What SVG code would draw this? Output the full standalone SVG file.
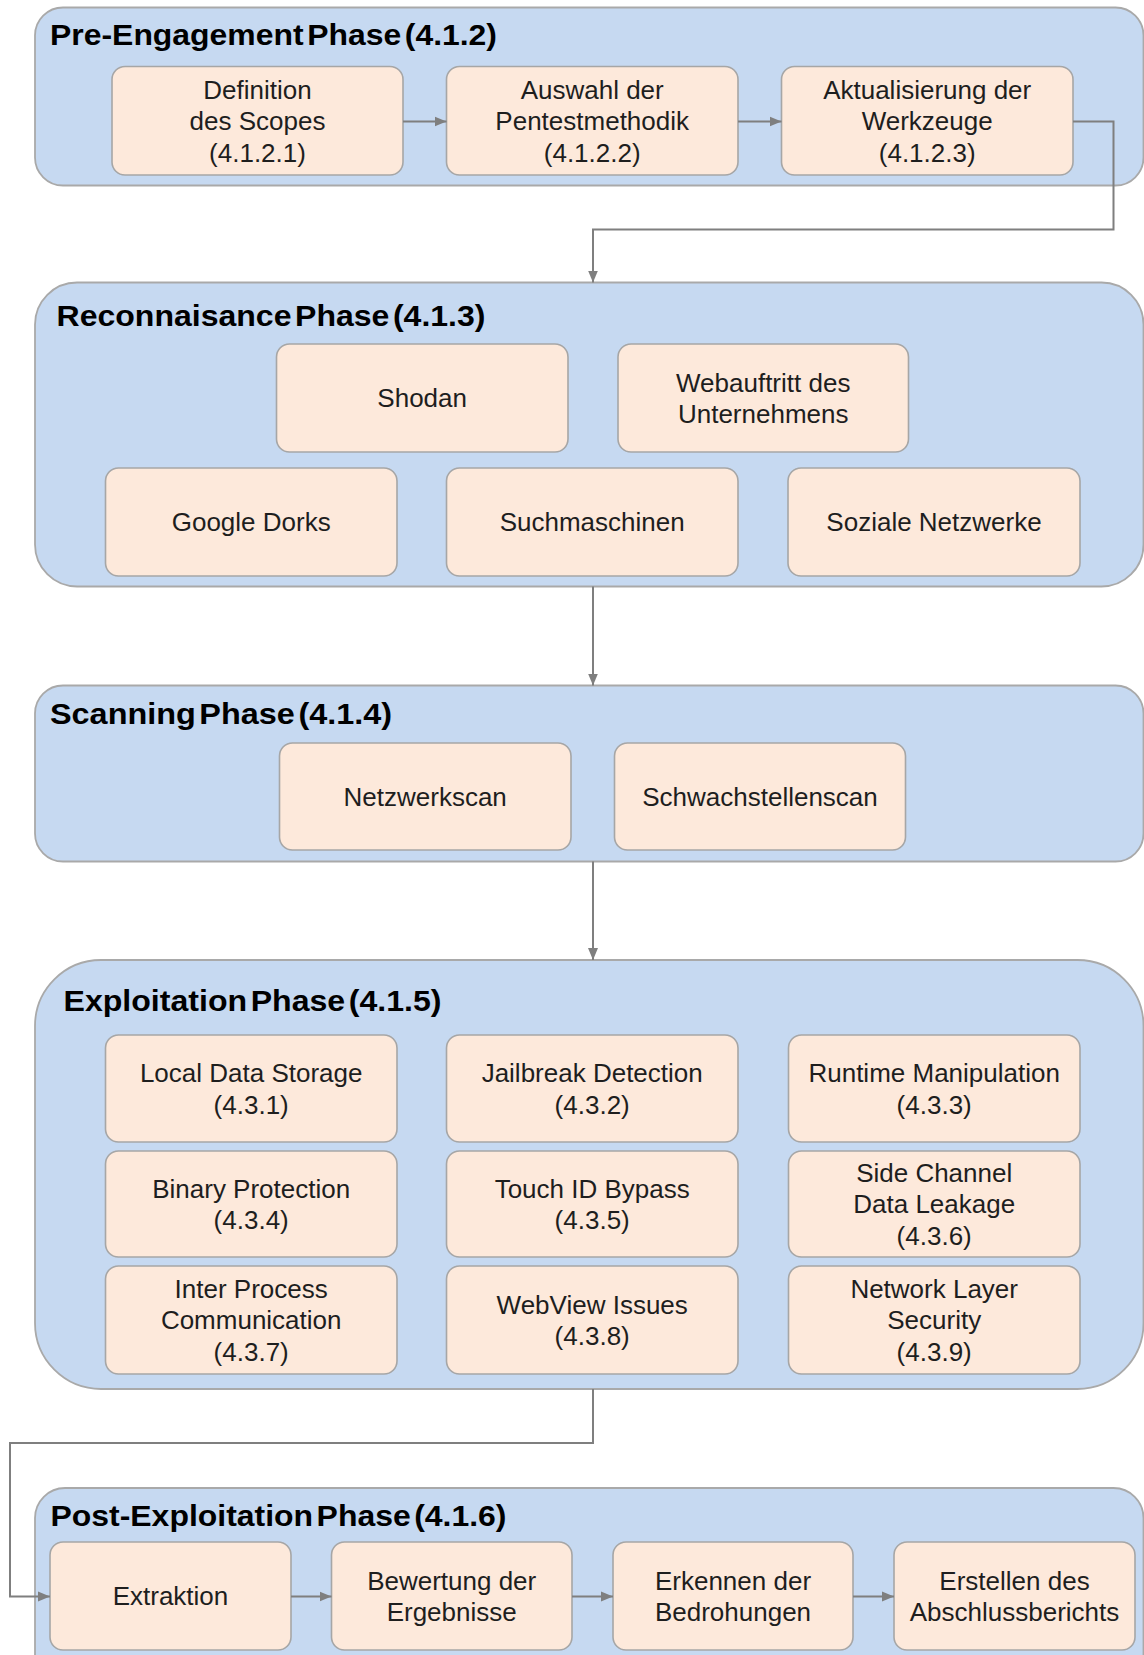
<svg xmlns="http://www.w3.org/2000/svg" width="1144" height="1655" viewBox="0 0 1144 1655">
<defs>
<style>
.phase{fill:#c6d9f1;stroke:#a9a9a9;stroke-width:1.8}
.node{fill:#fde9db;stroke:#a6a6a6;stroke-width:1.6}
.title{font-family:"Liberation Sans",Arial,sans-serif;font-weight:bold;font-size:30px;fill:#000;word-spacing:-5px}
.lbl{font-family:"Liberation Sans",Arial,sans-serif;font-size:26px;fill:#1e1e1e;text-anchor:middle}
.conn{fill:none;stroke:#7f7f7f;stroke-width:2}
</style>
<marker id="arr" markerUnits="userSpaceOnUse" markerWidth="14" markerHeight="12" refX="12" refY="6" orient="auto">
<path d="M0,1 L12,6 L0,11 Z" fill="#7f7f7f"/>
</marker>
</defs>
<rect width="1144" height="1655" fill="#ffffff"/>

<g id="phase-pre">
<rect class="phase" x="35" y="7.5" width="1108.5" height="178" rx="28" ry="28"/>
<text class="title" x="50" y="45" textLength="447" lengthAdjust="spacingAndGlyphs">Pre-Engagement Phase (4.1.2)</text>
</g>
<g id="phase-recon">
<rect class="phase" x="35" y="282.5" width="1108.5" height="304" rx="42" ry="42"/>
<text class="title" x="56.5" y="326" textLength="429" lengthAdjust="spacingAndGlyphs">Reconnaisance Phase (4.1.3)</text>
</g>
<g id="phase-scan">
<rect class="phase" x="35" y="685.5" width="1108.5" height="176" rx="28" ry="28"/>
<text class="title" x="50" y="724" textLength="342" lengthAdjust="spacingAndGlyphs">Scanning Phase (4.1.4)</text>
</g>
<g id="phase-exploit">
<rect class="phase" x="35" y="960" width="1108.5" height="429" rx="66" ry="66"/>
<text class="title" x="63.5" y="1010.5" textLength="378" lengthAdjust="spacingAndGlyphs">Exploitation Phase (4.1.5)</text>
</g>
<g id="phase-post">
<rect class="phase" x="35" y="1488" width="1108.5" height="200" rx="30" ry="30"/>
<text class="title" x="50.5" y="1526" textLength="456" lengthAdjust="spacingAndGlyphs">Post-Exploitation Phase (4.1.6)</text>
</g>

<g id="n-scope">
<rect class="node" x="112" y="66.5" width="291" height="108.5" rx="13"/>
<text class="lbl" x="257.5" y="98.6">Definition</text>
<text class="lbl" x="257.5" y="130.1">des Scopes</text>
<text class="lbl" x="257.5" y="161.6">(4.1.2.1)</text>
</g>
<g id="n-methodik">
<rect class="node" x="446.5" y="66.5" width="291.5" height="108.5" rx="13"/>
<text class="lbl" x="592.2" y="98.6">Auswahl der</text>
<text class="lbl" x="592.2" y="130.1">Pentestmethodik</text>
<text class="lbl" x="592.2" y="161.6">(4.1.2.2)</text>
</g>
<g id="n-werkzeuge">
<rect class="node" x="781.5" y="66.5" width="291.5" height="108.5" rx="13"/>
<text class="lbl" x="927.2" y="98.6">Aktualisierung der</text>
<text class="lbl" x="927.2" y="130.1">Werkzeuge</text>
<text class="lbl" x="927.2" y="161.6">(4.1.2.3)</text>
</g>

<g id="n-shodan">
<rect class="node" x="276.5" y="344" width="291.5" height="108" rx="13"/>
<text class="lbl" x="422.2" y="407.4">Shodan</text>
</g>
<g id="n-webauftritt">
<rect class="node" x="618" y="344" width="290.5" height="108" rx="13"/>
<text class="lbl" x="763.2" y="391.7">Webauftritt des</text>
<text class="lbl" x="763.2" y="423.2">Unternehmens</text>
</g>
<g id="n-google">
<rect class="node" x="105.5" y="468" width="291.5" height="108" rx="13"/>
<text class="lbl" x="251.2" y="531.4">Google Dorks</text>
</g>
<g id="n-such">
<rect class="node" x="446.5" y="468" width="291.5" height="108" rx="13"/>
<text class="lbl" x="592.2" y="531.4">Suchmaschinen</text>
</g>
<g id="n-sozial">
<rect class="node" x="788" y="468" width="292" height="108" rx="13"/>
<text class="lbl" x="934" y="531.4">Soziale Netzwerke</text>
</g>

<g id="n-netzwerkscan">
<rect class="node" x="279.5" y="743" width="291.5" height="107" rx="13"/>
<text class="lbl" x="425.2" y="805.9">Netzwerkscan</text>
</g>
<g id="n-schwachstellenscan">
<rect class="node" x="614.5" y="743" width="291" height="107" rx="13"/>
<text class="lbl" x="760" y="805.9">Schwachstellenscan</text>
</g>

<g id="n-431">
<rect class="node" x="105.5" y="1035" width="291.5" height="107" rx="13"/>
<text class="lbl" x="251.2" y="1082.2">Local Data Storage</text>
<text class="lbl" x="251.2" y="1113.7">(4.3.1)</text>
</g>
<g id="n-432">
<rect class="node" x="446.5" y="1035" width="291.5" height="107" rx="13"/>
<text class="lbl" x="592.2" y="1082.2">Jailbreak Detection</text>
<text class="lbl" x="592.2" y="1113.7">(4.3.2)</text>
</g>
<g id="n-433">
<rect class="node" x="788.5" y="1035" width="291.5" height="107" rx="13"/>
<text class="lbl" x="934.2" y="1082.2">Runtime Manipulation</text>
<text class="lbl" x="934.2" y="1113.7">(4.3.3)</text>
</g>
<g id="n-434">
<rect class="node" x="105.5" y="1151" width="291.5" height="106" rx="13"/>
<text class="lbl" x="251.2" y="1197.7">Binary Protection</text>
<text class="lbl" x="251.2" y="1229.2">(4.3.4)</text>
</g>
<g id="n-435">
<rect class="node" x="446.5" y="1151" width="291.5" height="106" rx="13"/>
<text class="lbl" x="592.2" y="1197.7">Touch ID Bypass</text>
<text class="lbl" x="592.2" y="1229.2">(4.3.5)</text>
</g>
<g id="n-436">
<rect class="node" x="788.5" y="1151" width="291.5" height="106" rx="13"/>
<text class="lbl" x="934.2" y="1181.9">Side Channel</text>
<text class="lbl" x="934.2" y="1213.4">Data Leakage</text>
<text class="lbl" x="934.2" y="1244.9">(4.3.6)</text>
</g>
<g id="n-437">
<rect class="node" x="105.5" y="1266" width="291.5" height="108" rx="13"/>
<text class="lbl" x="251.2" y="1297.9">Inter Process</text>
<text class="lbl" x="251.2" y="1329.4">Communication</text>
<text class="lbl" x="251.2" y="1360.9">(4.3.7)</text>
</g>
<g id="n-438">
<rect class="node" x="446.5" y="1266" width="291.5" height="108" rx="13"/>
<text class="lbl" x="592.2" y="1313.7">WebView Issues</text>
<text class="lbl" x="592.2" y="1345.2">(4.3.8)</text>
</g>
<g id="n-439">
<rect class="node" x="788.5" y="1266" width="291.5" height="108" rx="13"/>
<text class="lbl" x="934.2" y="1297.9">Network Layer</text>
<text class="lbl" x="934.2" y="1329.4">Security</text>
<text class="lbl" x="934.2" y="1360.9">(4.3.9)</text>
</g>

<g id="n-extraktion">
<rect class="node" x="50" y="1542" width="241" height="108" rx="13"/>
<text class="lbl" x="170.5" y="1605.4">Extraktion</text>
</g>
<g id="n-bewertung">
<rect class="node" x="331.5" y="1542" width="240.5" height="108" rx="13"/>
<text class="lbl" x="451.7" y="1589.7">Bewertung der</text>
<text class="lbl" x="451.7" y="1621.2">Ergebnisse</text>
</g>
<g id="n-erkennen">
<rect class="node" x="613" y="1542" width="240" height="108" rx="13"/>
<text class="lbl" x="733" y="1589.7">Erkennen der</text>
<text class="lbl" x="733" y="1621.2">Bedrohungen</text>
</g>
<g id="n-erstellen">
<rect class="node" x="894" y="1542" width="241" height="108" rx="13"/>
<text class="lbl" x="1014.5" y="1589.7">Erstellen des</text>
<text class="lbl" x="1014.5" y="1621.2">Abschlussberichts</text>
</g>

<g id="connectors">
<path class="conn" d="M403,121.5 H446.5" marker-end="url(#arr)"/>
<path class="conn" d="M738,121.5 H781.5" marker-end="url(#arr)"/>
<path class="conn" d="M1073,121.5 H1113.5 V229.5 H593 V282.5" marker-end="url(#arr)"/>
<path class="conn" d="M593,586.5 V685.5" marker-end="url(#arr)"/>
<path class="conn" d="M593,861.5 V960" marker-end="url(#arr)"/>
<path class="conn" d="M593,1389 V1443 H10 V1596.5 H50" marker-end="url(#arr)"/>
<path class="conn" d="M291,1596.5 H331.5" marker-end="url(#arr)"/>
<path class="conn" d="M572,1596.5 H613" marker-end="url(#arr)"/>
<path class="conn" d="M853,1596.5 H894" marker-end="url(#arr)"/>
</g>
</svg>
